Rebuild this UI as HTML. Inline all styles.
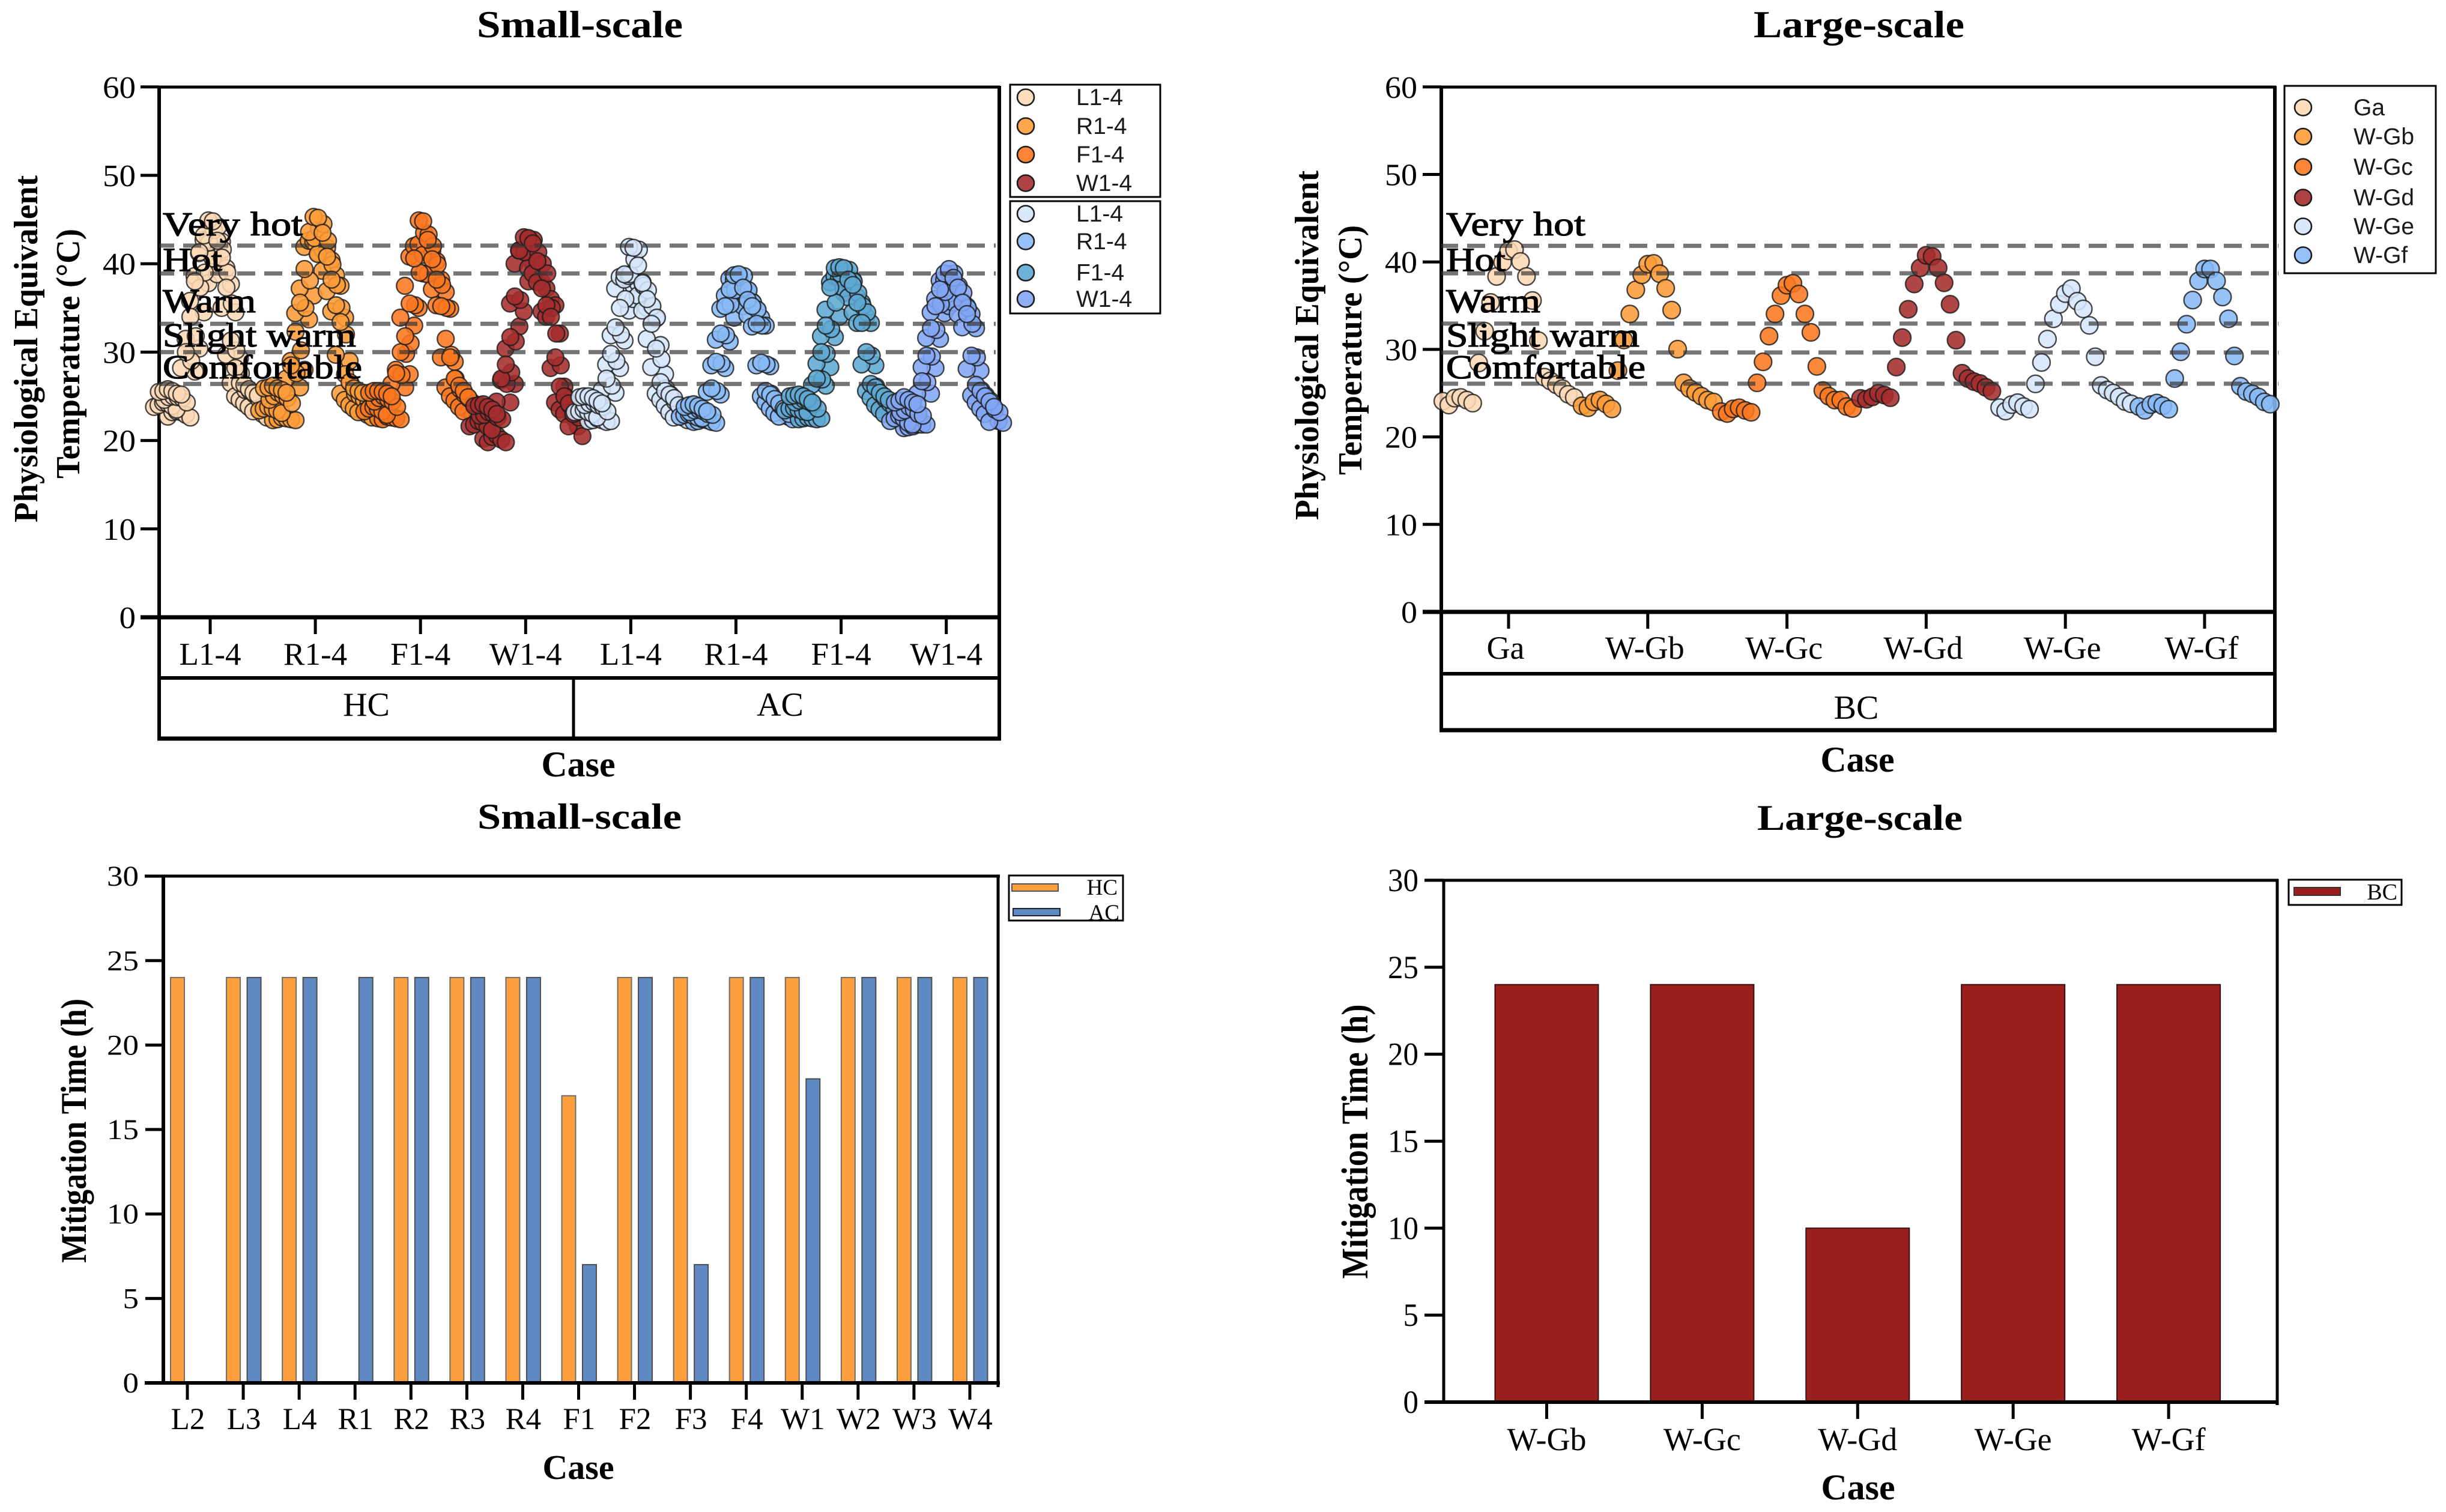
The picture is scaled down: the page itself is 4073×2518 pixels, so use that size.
<!DOCTYPE html>
<html lang="en">
<head>
<meta charset="utf-8">
<title>Physiological Equivalent Temperature and Mitigation Time</title>
<style>
html,body{margin:0;padding:0;background:#fff;width:4073px;height:2518px;overflow:hidden}
svg{display:block}
text{font-family:"Liberation Serif",serif;fill:#000}
.bold{font-weight:bold}
.sans{font-family:"Liberation Sans",sans-serif;fill:#1a1a1a}
.zone{stroke:#000;stroke-width:1.2px}
</style>
</head>
<body>
<svg id="figure" xmlns="http://www.w3.org/2000/svg" width="4073" height="2518" viewBox="0 0 4073 2518">
  <rect x="0" y="0" width="4073" height="2518" fill="#fff"/>

  <!-- Titles -->
  <text class="bold" x="794" y="62" font-size="63" textLength="343" lengthAdjust="spacingAndGlyphs">Small-scale</text>
  <text class="bold" x="2920" y="62" font-size="63" textLength="351" lengthAdjust="spacingAndGlyphs">Large-scale</text>
  <text class="bold" x="795" y="1380" font-size="60" textLength="340" lengthAdjust="spacingAndGlyphs">Small-scale</text>
  <text class="bold" x="2926" y="1382" font-size="60" textLength="342" lengthAdjust="spacingAndGlyphs">Large-scale</text>

  <!-- Top-left frame -->
  <g fill="none" stroke="#000">
    <line x1="265" y1="145" x2="1665" y2="145" stroke-width="5"/>
    <line x1="265" y1="143" x2="265" y2="1232" stroke-width="6"/>
    <line x1="1664" y1="143" x2="1664" y2="1232" stroke-width="6"/>
    <line x1="234" y1="1028" x2="1667" y2="1028" stroke-width="7"/>
    <line x1="265" y1="1129" x2="1667" y2="1129" stroke-width="6"/>
    <line x1="262" y1="1230" x2="1667" y2="1230" stroke-width="7"/>
    <line x1="955" y1="1129" x2="955" y2="1230" stroke-width="5"/>
  </g>
  <text x="610" y="1192" font-size="56" text-anchor="middle">HC</text>
  <text x="1299" y="1192" font-size="56" text-anchor="middle">AC</text>
  <text class="bold" x="963" y="1293" font-size="60" text-anchor="middle">Case</text>
  <text class="bold" transform="translate(62,581) rotate(-90)" font-size="56" text-anchor="middle" textLength="578" lengthAdjust="spacingAndGlyphs">Physiological Equivalent</text>
  <text class="bold" transform="translate(132,589) rotate(-90)" font-size="56" text-anchor="middle" textLength="416" lengthAdjust="spacingAndGlyphs">Temperature (°C)</text>

  <!-- Top-right frame -->
  <g fill="none" stroke="#000">
    <line x1="2400" y1="145" x2="3790" y2="145" stroke-width="5"/>
    <line x1="2400" y1="143" x2="2400" y2="1219" stroke-width="6"/>
    <line x1="3788" y1="143" x2="3788" y2="1219" stroke-width="6"/>
    <line x1="2369" y1="1019" x2="3791" y2="1019" stroke-width="7"/>
    <line x1="2400" y1="1122" x2="3791" y2="1122" stroke-width="6"/>
    <line x1="2397" y1="1216" x2="3791" y2="1216" stroke-width="7"/>
  </g>
  <text x="3091" y="1197" font-size="56" text-anchor="middle">BC</text>
  <text class="bold" x="3093" y="1285" font-size="60" text-anchor="middle">Case</text>
  <text class="bold" transform="translate(2195,575) rotate(-90)" font-size="56" text-anchor="middle" textLength="582" lengthAdjust="spacingAndGlyphs">Physiological Equivalent</text>
  <text class="bold" transform="translate(2267,583) rotate(-90)" font-size="56" text-anchor="middle" textLength="416" lengthAdjust="spacingAndGlyphs">Temperature (°C)</text>

  <!-- Bottom-left frame -->
  <g fill="none" stroke="#000">
    <line x1="241" y1="1459" x2="1665" y2="1459" stroke-width="5"/>
    <line x1="272" y1="1457" x2="272" y2="2306" stroke-width="6"/>
    <line x1="1662" y1="1457" x2="1662" y2="2310" stroke-width="5"/>
  </g>
  <text class="bold" x="963" y="2463" font-size="58" text-anchor="middle">Case</text>
  <text class="bold" transform="translate(143,1883) rotate(-90)" font-size="60" text-anchor="middle" textLength="440" lengthAdjust="spacingAndGlyphs">Mitigation Time (h)</text>

  <!-- Bottom-right frame -->
  <g fill="none" stroke="#000">
    <line x1="2372" y1="1466" x2="3794" y2="1466" stroke-width="5"/>
    <line x1="2404" y1="1464" x2="2404" y2="2338" stroke-width="5"/>
    <line x1="3792" y1="1464" x2="3792" y2="2340" stroke-width="5"/>
  </g>
  <text class="bold" x="3094" y="2497" font-size="60" text-anchor="middle">Case</text>
  <text class="bold" transform="translate(2277,1901) rotate(-90)" font-size="62" text-anchor="middle" textLength="457" lengthAdjust="spacingAndGlyphs">Mitigation Time (h)</text>

  <g id="layer-marks"></g>
  <g id="layer-lines"></g>

  <!-- Comfort zone labels -->
  <g>
    <text class="zone" x="271" y="392" font-size="56" textLength="233" lengthAdjust="spacingAndGlyphs">Very hot</text>
    <text class="zone" x="271" y="451" font-size="56" textLength="99" lengthAdjust="spacingAndGlyphs">Hot</text>
    <text class="zone" x="271" y="520" font-size="56" textLength="155" lengthAdjust="spacingAndGlyphs">Warm</text>
    <text class="zone" x="271" y="577" font-size="56" textLength="322" lengthAdjust="spacingAndGlyphs">Slight warm</text>
    <text class="zone" x="271" y="630" font-size="56" textLength="332" lengthAdjust="spacingAndGlyphs">Comfortable</text>
  </g>
  <g>
    <text class="zone" x="2408" y="392" font-size="56" textLength="232" lengthAdjust="spacingAndGlyphs">Very hot</text>
    <text class="zone" x="2408" y="451" font-size="56" textLength="99" lengthAdjust="spacingAndGlyphs">Hot</text>
    <text class="zone" x="2408" y="520" font-size="56" textLength="157" lengthAdjust="spacingAndGlyphs">Warm</text>
    <text class="zone" x="2408" y="577" font-size="56" textLength="322" lengthAdjust="spacingAndGlyphs">Slight warm</text>
    <text class="zone" x="2408" y="630" font-size="56" textLength="332" lengthAdjust="spacingAndGlyphs">Comfortable</text>
  </g>

  <!-- Legend boxes -->
  <rect x="1682" y="141" width="250" height="187" fill="none" stroke="#000" stroke-width="3"/>
  <rect x="1682" y="335" width="250" height="187" fill="none" stroke="#000" stroke-width="3"/>
  <rect x="3804" y="143" width="252" height="312" fill="none" stroke="#000" stroke-width="3"/>
  <rect x="1680" y="1458" width="190" height="75" fill="none" stroke="#000" stroke-width="3"/>
  <rect x="3811" y="1465" width="188" height="42" fill="none" stroke="#000" stroke-width="3"/>
  <g id="layer-legends"></g>
</svg>

<script>
// ---------- Tick labels and categories ----------
const petTicks = [0, 10, 20, 30, 40, 50, 60];
const mitigationTicks = [0, 5, 10, 15, 20, 25, 30];
const smallPetCategories = ['L1-4', 'R1-4', 'F1-4', 'W1-4', 'L1-4', 'R1-4', 'F1-4', 'W1-4'];
const largePetCategories = ['Ga', 'W-Gb', 'W-Gc', 'W-Gd', 'W-Ge', 'W-Gf'];
const smallMitigationCategories = ['L2', 'L3', 'L4', 'R1', 'R2', 'R3', 'R4', 'F1', 'F2', 'F3', 'F4', 'W1', 'W2', 'W3', 'W4'];
const largeMitigationCategories = ['W-Gb', 'W-Gc', 'W-Gd', 'W-Ge', 'W-Gf'];

// ---------- Comfort thresholds (°C) ----------
const smallThresholds = [42.05, 38.9, 33.2, 30, 26.4];
const largeThresholds = [41.84, 38.7, 32.95, 29.65, 26.08];

// ---------- Small-scale PET, hourly values per case ----------
const hcL = [
  [25.5,25.6,25.8,25.6,25.3,25.2,30.0,34.0,38.0,41.3,43.2,44.9,44.8,42.6,40.7,37.3,31.3,28.2,26.5,26.3,25.8,25.4,25.1],
  [24.6,24.9,25.0,24.9,24.8,24.3,29.0,31.8,37.3,39.0,42.4,43.8,44.2,41.6,39.0,35.5,30.2,27.6,25.7,25.6,25.2,24.7,24.3],
  [23.8,24.0,24.3,24.2,23.9,23.5,28.2,31.5,35.8,38.6,41.2,42.7,42.7,40.6,38.8,35.0,29.7,26.5,25.0,24.6,24.2,23.8,23.3],
  [22.7,23.2,23.3,23.2,22.9,22.6,27.8,30.4,34.5,37.8,40.9,42.2,42.5,39.5,37.7,34.5,29.3,25.5,24.4,23.9,23.4,23.0,22.6]
];
const hcR = [
  [25.9,26.0,26.2,25.9,25.7,25.4,28.5,32.3,35.6,39.4,43.6,45.3,45.2,43.5,40.8,38.2,35.3,33.4,27.5,26.6,25.9,25.6,25.4],
  [24.6,25.0,25.4,25.1,24.8,24.2,27.6,30.2,35.0,38.1,42.9,44.0,44.5,42.6,39.9,37.6,35.0,32.0,26.5,25.3,25.0,24.6,24.3],
  [23.4,23.6,23.8,23.6,23.4,23.1,27.0,29.0,34.4,37.2,41.9,42.6,42.5,41.1,39.2,36.9,34.6,29.7,25.3,24.6,24.0,23.6,23.2],
  [22.3,22.4,22.6,22.5,22.4,22.3,26.0,28.0,33.7,36.4,41.2,41.6,41.8,40.4,38.7,37.5,33.9,29.0,24.5,23.7,23.2,22.9,22.6]
];
const hcF = [
  [25.4,25.6,25.6,25.5,25.3,25.0,27.6,30.0,31.8,35.5,40.6,44.9,44.8,42.7,40.5,38.2,35.2,31.5,29.4,27.0,26.2,25.6,24.9],
  [24.4,24.8,25.0,24.7,24.4,23.8,27.4,29.8,31.0,35.3,39.0,43.5,43.3,42.0,39.9,37.6,35.0,29.7,27.0,25.8,25.2,24.7,24.2],
  [23.3,23.6,23.8,23.6,23.3,22.9,26.4,28.0,33.9,37.5,40.8,42.0,42.2,41.0,38.8,37.1,35.3,29.4,26.0,25.0,24.5,23.8,23.3],
  [22.5,22.4,22.7,22.6,22.5,22.4,26.0,27.5,33.0,35.0,38.9,41.2,41.4,40.3,38.2,36.8,34.9,28.9,24.8,24.1,23.4,23.0,22.6]
];
const hcW = [
  [23.9,24.0,24.1,23.8,23.5,23.0,27.0,28.6,31.7,36.3,41.5,43.0,42.9,42.3,40.3,37.2,35.3,34.0,29.4,26.1,25.0,24.2,23.0],
  [22.8,22.9,23.2,23.0,22.6,22.4,26.4,27.7,31.2,35.9,41.3,42.8,42.7,41.3,40.0,38.9,35.0,32.1,28.5,25.0,24.0,23.4,22.6],
  [21.6,21.8,22.2,22.0,21.6,21.2,24.4,26.8,30.4,35.5,40.0,41.5,41.4,39.5,38.9,37.9,34.6,34.0,28.2,24.3,23.5,23.0,21.6],
  [20.2,19.8,20.4,20.6,20.1,19.8,24.3,26.4,32.9,34.6,38.0,40.0,40.2,37.9,37.2,36.0,35.3,32.1,26.1,23.5,22.6,21.6,20.5]
];
const acL = [
  [24.9,25.0,25.0,24.8,24.5,24.2,27.0,29.8,32.8,35.0,38.8,41.9,41.8,39.8,37.8,36.0,33.2,30.4,26.6,25.6,25.2,24.8,24.0],
  [24.0,24.2,24.3,24.0,23.8,23.3,26.2,29.0,32.0,36.0,38.8,40.5,41.6,37.5,37.0,35.2,33.9,29.2,25.9,25.2,24.4,23.8,23.2],
  [23.2,23.3,23.5,23.2,23.0,22.6,25.7,28.6,31.9,37.2,38.5,38.2,38.6,36.0,36.4,34.7,31.5,28.3,25.3,24.6,23.9,23.2,22.6],
  [22.2,22.3,22.5,22.3,22.1,22.2,25.4,28.2,31.3,34.7,37.5,37.8,37.9,35.0,35.2,33.8,30.8,27.5,24.9,24.1,23.2,22.6,22.3]
];
const acR = [
  [23.8,24.0,24.1,23.9,23.6,23.3,25.9,28.9,32.1,35.2,37.1,38.7,38.8,37.3,35.9,35.2,33.2,28.8,25.6,25.2,24.7,24.2,23.6],
  [23.2,23.4,23.5,23.3,23.0,22.9,25.6,28.7,31.9,35.4,37.0,38.5,38.6,37.0,35.6,34.8,33.0,28.6,25.3,24.6,24.0,23.5,23.0],
  [22.7,22.9,23.0,22.8,22.6,22.5,25.5,28.5,31.4,34.9,36.4,38.3,38.2,36.4,35.2,34.2,32.9,28.5,25.0,24.3,23.6,23.1,22.7],
  [22.1,22.2,22.4,22.3,22.1,22.0,25.2,28.2,31.2,33.9,35.9,36.9,37.0,35.7,34.8,33.9,33.0,28.4,24.6,23.8,23.1,22.7,22.4]
];
const acF = [
  [25.0,25.1,25.2,25.0,24.7,24.3,27.0,30.0,33.0,37.3,39.5,39.6,39.5,38.2,37.6,35.6,33.3,30.0,26.4,26.0,25.4,25.0,24.6],
  [24.3,24.5,24.6,24.4,24.1,23.6,26.9,29.8,32.6,35.6,38.9,39.4,39.3,38.0,36.7,35.2,34.5,29.6,26.1,25.3,24.7,24.2,23.7],
  [23.4,23.6,23.7,23.5,23.3,23.2,26.3,28.7,31.8,34.8,37.9,38.6,38.4,37.2,36.2,34.5,33.3,28.6,25.6,24.8,24.0,23.5,23.0],
  [22.4,22.5,22.6,22.5,22.4,22.5,26.2,28.3,31.7,34.0,36.7,37.9,38.2,36.2,35.6,34.0,33.3,28.5,25.0,24.2,23.4,22.9,22.4]
];
const acW = [
  [24.3,24.5,24.9,24.6,24.3,24.1,26.7,29.6,32.7,35.2,37.1,38.9,39.4,38.4,37.3,35.6,34.3,29.6,26.3,25.6,25.0,24.4,23.8],
  [23.2,23.4,23.8,23.5,23.0,22.8,26.6,29.5,32.5,35.4,36.8,38.8,38.9,37.5,36.7,35.0,33.2,29.4,25.7,25.1,24.5,23.5,23.2],
  [22.2,22.5,22.8,22.5,22.0,21.8,25.3,28.3,31.6,34.5,36.0,38.1,38.2,36.6,35.6,34.3,32.8,28.1,25.1,24.3,23.6,23.0,22.1],
  [21.4,21.5,21.6,21.8,21.8,21.8,25.3,28.2,31.5,34.4,35.2,37.1,37.3,35.7,35.2,34.3,32.7,27.9,24.7,23.5,23.0,22.2,22.0]
];

// ---------- Large-scale PET, hourly values per case ----------
const ga = [24.08,23.64,24.43,24.51,24.21,23.86,28.45,32.08,35.37,38.34,39.96,41.27,41.41,40.05,38.34,35.59,31.0,26.83,26.4,25.96,25.52,24.87,24.51];
const wGb = [23.55,23.33,23.99,24.21,23.77,23.2,27.58,31.08,34.05,36.81,38.52,39.74,39.83,38.65,36.99,34.49,30.03,26.18,25.52,25.08,24.65,24.21,23.99];
const wGc = [22.89,22.67,23.2,23.33,23.03,22.81,26.18,28.58,31.52,34.05,36.15,37.34,37.56,36.33,34.05,31.95,28.06,25.3,24.65,24.21,24.21,23.47,23.25];
const wGd = [24.4,24.3,24.57,24.99,24.78,24.48,27.98,31.35,34.59,37.48,39.32,40.76,40.63,39.32,37.61,35.16,31.05,27.28,26.67,26.32,26.1,25.66,25.22];
const wGe = [23.34,22.95,23.69,23.91,23.47,23.17,26.06,28.51,31.18,33.5,35.16,36.38,36.95,35.51,34.63,32.75,29.16,25.88,25.36,25.01,24.57,24.04,23.78];
const wGf = [23.47,23.04,23.69,23.87,23.56,23.17,26.67,29.73,32.88,35.64,37.83,39.19,39.19,37.83,35.99,33.5,29.25,25.79,25.18,24.92,24.57,24.0,23.74];

// ---------- Mitigation time (h) ----------
const smallHcHours = [24, 24, 24, 0, 24, 24, 24, 17, 24, 24, 24, 24, 24, 24, 24];
const smallAcHours = [0, 24, 24, 24, 24, 24, 24, 7, 24, 7, 24, 18, 24, 24, 24];
const largeBcHours = [24, 24, 10, 24, 24];

// ---------- Legend labels ----------
const legendHc = ['L1-4', 'R1-4', 'F1-4', 'W1-4'];
const legendAc = ['L1-4', 'R1-4', 'F1-4', 'W1-4'];

// ---------- Colours ----------
const smallColors = ['#fcd9b6', '#fd9c38', '#fb7720', '#a52c2c', '#d5e6fa', '#88baf6', '#5ea8d3', '#82a6f5'];
const largeColors = ['#fcd9b6', '#fd9c38', '#fb7720', '#a52c2c', '#d5e6fa', '#88baf6'];

// ---------- Scales ----------
const yPetSmall = v => 1028 - v * 14.72;
const yPetLarge = v => 1019 - v * 14.57;
const yMitSmall = v => 2303 - v * 28.13;
const yMitLarge = v => 2335 - v * 28.97;
const xPetSmall = i => 350 + i * 175.1;
const xPetLarge = i => 2512 + i * 231.8;
const xMitSmall = i => 312 + i * 93.07;
const xMitLarge = i => 2575.5 + i * 258.9;

const NS = 'http://www.w3.org/2000/svg';
const marks = document.getElementById('layer-marks');
const linesLayer = document.getElementById('layer-lines');
const legends = document.getElementById('layer-legends');

function make(tag, attrs, parent, txt) {
  const n = document.createElementNS(NS, tag);
  for (const k in attrs) n.setAttribute(k, attrs[k]);
  if (txt !== undefined) n.textContent = txt;
  parent.appendChild(n);
  return n;
}

function yTicks(values, yScale, x0, x1, labelX, fontSize, dy, charWidth, parent) {
  values.forEach(v => {
    const tick = make('line', {x1: x0, x2: x1, y1: yScale(v), y2: yScale(v), stroke: '#000', 'stroke-width': 5}, parent);
    
    
    const str = String(v);
    const label = make('text', {x: labelX, y: yScale(v) + dy, 'font-size': fontSize, 'text-anchor': 'end', textLength: str.length * charWidth, lengthAdjust: 'spacingAndGlyphs'}, parent, str);
    
    
  });
}

function xTicks(labels, xScale, y0, y1, labelY, fontSize, labelShift, parent) {
  labels.forEach((name, i) => {
    const tick = make('line', {x1: xScale(i), x2: xScale(i), y1: y0, y2: y1, stroke: '#000', 'stroke-width': 5}, parent);
    
    
    const label = make('text', {x: xScale(i) + labelShift, y: labelY, 'font-size': fontSize, 'text-anchor': 'middle'}, parent, name);
    
    
  });
}

function dot(cx, cy, fill, r, parent) {
  const c = make('circle', {cx: cx, cy: cy, r: r, fill: fill, 'fill-opacity': 0.88, stroke: '#1c1c1c', 'stroke-opacity': 0.8, 'stroke-width': 2.4}, parent);
  
  
  return c;
}

function bar(x, width, value, yScale, fill, stroke, parent) {
  if (!value) return;
  const r = make('rect', {x: x, y: yScale(value), width: width, height: yScale(0) - yScale(value), fill: fill, stroke: stroke, 'stroke-width': 2}, parent);
  
  
}

function dashes(values, yScale, x0, x1, offset) {
  values.forEach(v => {
    const d = make('line', {x1: x0, x2: x1, y1: yScale(v), y2: yScale(v), stroke: '#333', 'stroke-opacity': 0.68, 'stroke-width': 7, 'stroke-dasharray': '30 15', 'stroke-dashoffset': offset}, linesLayer);
    
    
  });
}

function legendDot(cx, cy, fill, label, tx, parent) {
  const c = make('ellipse', {cx: cx, cy: cy, rx: 14, ry: 13.5, fill: fill, 'fill-opacity': 0.9, stroke: '#1c1c1c', 'stroke-width': 2.6}, parent);
  
  
  const t = make('text', {x: tx, y: cy + 13, 'font-size': 39, class: 'sans'}, parent, label);
  
  
}

// ---------- Axes ----------
yTicks(petTicks, yPetSmall, 234, 265, 226, 52, 18, 27.5, marks);
xTicks(smallPetCategories, xPetSmall, 1028, 1056, 1107, 53, 0, marks);
yTicks(petTicks, yPetLarge, 2369, 2400, 2360, 52, 18, 27, marks);
xTicks(largePetCategories, xPetLarge, 1019, 1047, 1097, 54, -5, marks);
yTicks(mitigationTicks, yMitSmall, 242, 272, 231, 48, 16, 26.5, marks);
xTicks(smallMitigationCategories, xMitSmall, 2303, 2331, 2380, 51, 1, marks);
yTicks(mitigationTicks, yMitLarge, 2372, 2404, 2362, 54, 18, 25.5, marks);
xTicks(largeMitigationCategories, xMitLarge, 2335, 2363, 2415, 54, 0, marks);

// ---------- Small-scale swarm ----------
const smallCases = [hcL, hcR, hcF, hcW, acL, acR, acF, acW];
const HOUR_STEP_SMALL = 7.5;
const SERIES_SHIFT = [-3, 6, -11, 12];
smallCases.forEach((seriesList, c) => {
  for (let s = seriesList.length - 1; s >= 0; s--) {
    seriesList[s].forEach((v, h) => {
      dot(xPetSmall(c) + (h - 11) * HOUR_STEP_SMALL + SERIES_SHIFT[s], yPetSmall(v), smallColors[c], 14, marks);
    });
  }
});

// ---------- Large-scale swarm ----------
const largeCases = [ga, wGb, wGc, wGd, wGe, wGf];
const HOUR_STEP_LARGE = 9.95;
largeCases.forEach((values, c) => {
  values.forEach((v, h) => {
    dot(xPetLarge(c) + (h - 11) * HOUR_STEP_LARGE, yPetLarge(v), largeColors[c], 14.5, marks);
  });
});

// ---------- Bars ----------
smallMitigationCategories.forEach((name, i) => {
  bar(xMitSmall(i) - 28, 23, smallHcHours[i], yMitSmall, '#fd9f3c', '#6e6e6e', marks);
  bar(xMitSmall(i) + 6.5, 23, smallAcHours[i], yMitSmall, '#5f89c2', '#4d4d4d', marks);
});
largeMitigationCategories.forEach((name, i) => {
  bar(xMitLarge(i) - 86, 172, largeBcHours[i], yMitLarge, '#9b1f1d', '#3a1010', marks);
});

// x axis lines for the bar charts sit above the bars
const bottomAxisSmall = make('line', {x1: 241, x2: 1665, y1: 2303, y2: 2303, stroke: '#000', 'stroke-width': 6}, marks);


const bottomAxisLarge = make('line', {x1: 2372, x2: 3794, y1: 2335, y2: 2335, stroke: '#000', 'stroke-width': 6}, marks);



// ---------- Threshold lines ----------
dashes(smallThresholds, yPetSmall, 265, 1658, 5);
dashes(largeThresholds, yPetLarge, 2400, 3794, 2);

// ---------- Legends ----------
const hcRows = [162, 210, 257.5, 305];
const acRows = [356, 402, 454, 498];
legendHc.forEach((label, i) => legendDot(1708, hcRows[i], smallColors[i], label, 1792, legends));
legendAc.forEach((label, i) => legendDot(1708, acRows[i], smallColors[i + 4], label, 1792, legends));
const largeRows = [179, 227.5, 278, 329, 377, 425];
largePetCategories.forEach((label, i) => legendDot(3835, largeRows[i], largeColors[i], label, 3919, legends));

const hcSwatch = make('rect', {x: 1685, y: 1472, width: 77, height: 12, fill: '#fd9f3c', stroke: '#555', 'stroke-width': 2}, legends);


const hcText = make('text', {x: 1861, y: 1490, 'font-size': 37, 'text-anchor': 'end'}, legends, 'HC');


const acSwatch = make('rect', {x: 1687, y: 1513, width: 78, height: 12, fill: '#5f89c2', stroke: '#223', 'stroke-width': 2}, legends);


const acText = make('text', {x: 1864, y: 1532, 'font-size': 37, 'text-anchor': 'end'}, legends, 'AC');


const bcSwatch = make('rect', {x: 3820, y: 1478, width: 77, height: 13, fill: '#9b1f1d', stroke: '#333', 'stroke-width': 2}, legends);


const bcText = make('text', {x: 3992, y: 1498, 'font-size': 38, 'text-anchor': 'end'}, legends, 'BC');


</script>
</body>
</html>
